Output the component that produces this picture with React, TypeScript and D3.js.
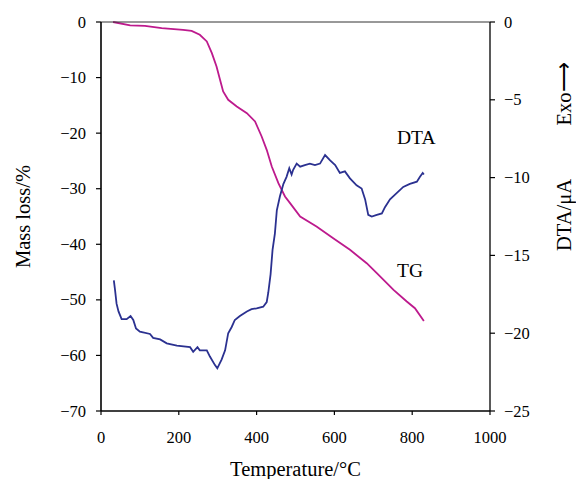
import * as d3 from "d3";

// TG curve: temperature (°C) vs mass loss (%)
const tgTemp = [31, 75, 113, 156, 211, 233, 254, 272, 285, 297, 306, 314, 327, 349, 375, 396, 413, 426, 439, 456, 473, 486, 512, 554, 597, 640, 683, 709, 752, 786, 807, 830];
const tgMass = [0, -0.6, -0.7, -1.1, -1.4, -1.6, -2.3, -3.5, -5.6, -8.0, -10.4, -12.5, -14.0, -15.2, -16.4, -17.9, -20.6, -23.0, -26.0, -29.0, -31.4, -32.6, -35.0, -36.8, -38.9, -41.0, -43.4, -45.2, -48.2, -50.3, -51.5, -53.8];

// DTA curve: temperature (°C) vs signal (µA)
const dtaTemp = [33, 36, 40, 45, 53, 66, 76, 83, 90, 100, 126, 134, 152, 169, 195, 229, 237, 248, 254, 272, 280, 293, 299, 310, 319, 327, 336, 344, 357, 375, 387, 400, 417, 426, 430, 436, 441, 447, 452, 460, 469, 477, 484, 490, 494, 503, 512, 524, 537, 550, 563, 576, 589, 602, 614, 627, 640, 657, 670, 679, 687, 696, 709, 722, 730, 743, 760, 777, 794, 812, 820, 827, 830];
const dtaVal = [-16.6, -17.2, -18.1, -18.6, -19.1, -19.1, -18.9, -19.15, -19.7, -19.9, -20.05, -20.3, -20.4, -20.65, -20.8, -20.9, -21.2, -20.9, -21.1, -21.1, -21.5, -22.05, -22.26, -21.7, -21.1, -20.0, -19.6, -19.15, -18.9, -18.6, -18.46, -18.4, -18.3, -18.0, -17.4, -16.2, -14.65, -13.6, -12.1, -11.2, -10.4, -9.95, -9.4, -9.8, -9.5, -9.1, -9.3, -9.2, -9.1, -9.2, -9.1, -8.55, -8.9, -9.2, -9.7, -9.6, -10.05, -10.5, -10.7, -11.4, -12.4, -12.5, -12.4, -12.3, -11.9, -11.4, -11.0, -10.6, -10.4, -10.26, -9.95, -9.7, -9.8];

const xTicks = [0, 200, 400, 600, 800, 1000];
const yLeftTicks = [0, -10, -20, -30, -40, -50, -60, -70];
const yRightTicks = [0, -5, -10, -15, -20, -25];

const W = 576, H = 479;
const M = { l: 101, r: 490, t: 22, b: 411 };
const FONT = "'Liberation Serif', 'Times New Roman', serif";
const TG_COLOR = "#BD1A8D";
const DTA_COLOR = "#2B3190";

export default function App() {
  const x = d3.scaleLinear().domain([0, 1000]).range([M.l, M.r]);
  const yL = d3.scaleLinear().domain([-70, 0]).range([M.b, M.t]);
  const yR = d3.scaleLinear().domain([-25, 0]).range([M.b, M.t]);

  const tgLine = d3.line<number>().x((_, i) => x(tgTemp[i])).y(d => yL(d))(tgMass) || "";
  const dtaLine = d3.line<number>().x((_, i) => x(dtaTemp[i])).y(d => yR(d))(dtaVal) || "";

  const fmt = (v: number) => (v < 0 ? "\u2212" + Math.abs(v) : String(v));

  return (
    <svg width={W} height={H} style={{ position: "absolute", left: 0, top: 0, background: "#fff", fontFamily: FONT }}>
      <path d={tgLine} fill="none" stroke={TG_COLOR} strokeWidth={1.8} />
      <path d={dtaLine} fill="none" stroke={DTA_COLOR} strokeWidth={1.8} />

      {/* frame */}
      <line x1={M.l} x2={M.r} y1={M.t} y2={M.t} stroke="#333" strokeWidth={1} />
      <line x1={M.l} x2={M.l} y1={M.t} y2={M.b} stroke="#000" strokeWidth={1.6} />
      <line x1={M.r} x2={M.r} y1={M.t} y2={M.b} stroke="#000" strokeWidth={1.3} />
      <line x1={M.l} x2={M.r} y1={M.b} y2={M.b} stroke="#000" strokeWidth={1.6} />

      {/* bottom axis */}
      {xTicks.map(t => (
        <g key={t}>
          <line x1={x(t)} x2={x(t)} y1={M.b} y2={M.b + 4} stroke="#000" strokeWidth={1.2} />
          <text x={x(t)} y={443} textAnchor="middle" fontSize={16.5}>{t}</text>
        </g>
      ))}
      <text x={(M.l + M.r) / 2} y={476} textAnchor="middle" fontSize={20.5}>Temperature/°C</text>

      {/* left axis */}
      {yLeftTicks.map(t => (
        <g key={t}>
          <line x1={M.l - 5} x2={M.l} y1={yL(t)} y2={yL(t)} stroke="#000" strokeWidth={1.2} />
          <text x={86} y={yL(t) + 5.5} textAnchor="end" fontSize={16.5}>{fmt(t)}</text>
        </g>
      ))}
      <text transform={`translate(30 ${(M.t + M.b) / 2}) rotate(-90)`} textAnchor="middle" fontSize={20.5}>Mass loss/%</text>

      {/* right axis */}
      {yRightTicks.map(t => (
        <g key={t}>
          <line x1={M.r} x2={M.r + 5} y1={yR(t)} y2={yR(t)} stroke="#000" strokeWidth={1.2} />
          <text x={504} y={yR(t) + 5.5} textAnchor="start" fontSize={16.5}>{fmt(t)}</text>
        </g>
      ))}
      <text transform={`translate(571 215) rotate(-90)`} textAnchor="middle" fontSize={20.5}>DTA/μA</text>
      <text transform={`translate(571 94) rotate(-90)`} textAnchor="middle" fontSize={20.5}>Exo⟶</text>

      {/* curve labels */}
      <text x={397} y={144} fontSize={19.5}>DTA</text>
      <text x={397} y={277} fontSize={19.5}>TG</text>
    </svg>
  );
}
